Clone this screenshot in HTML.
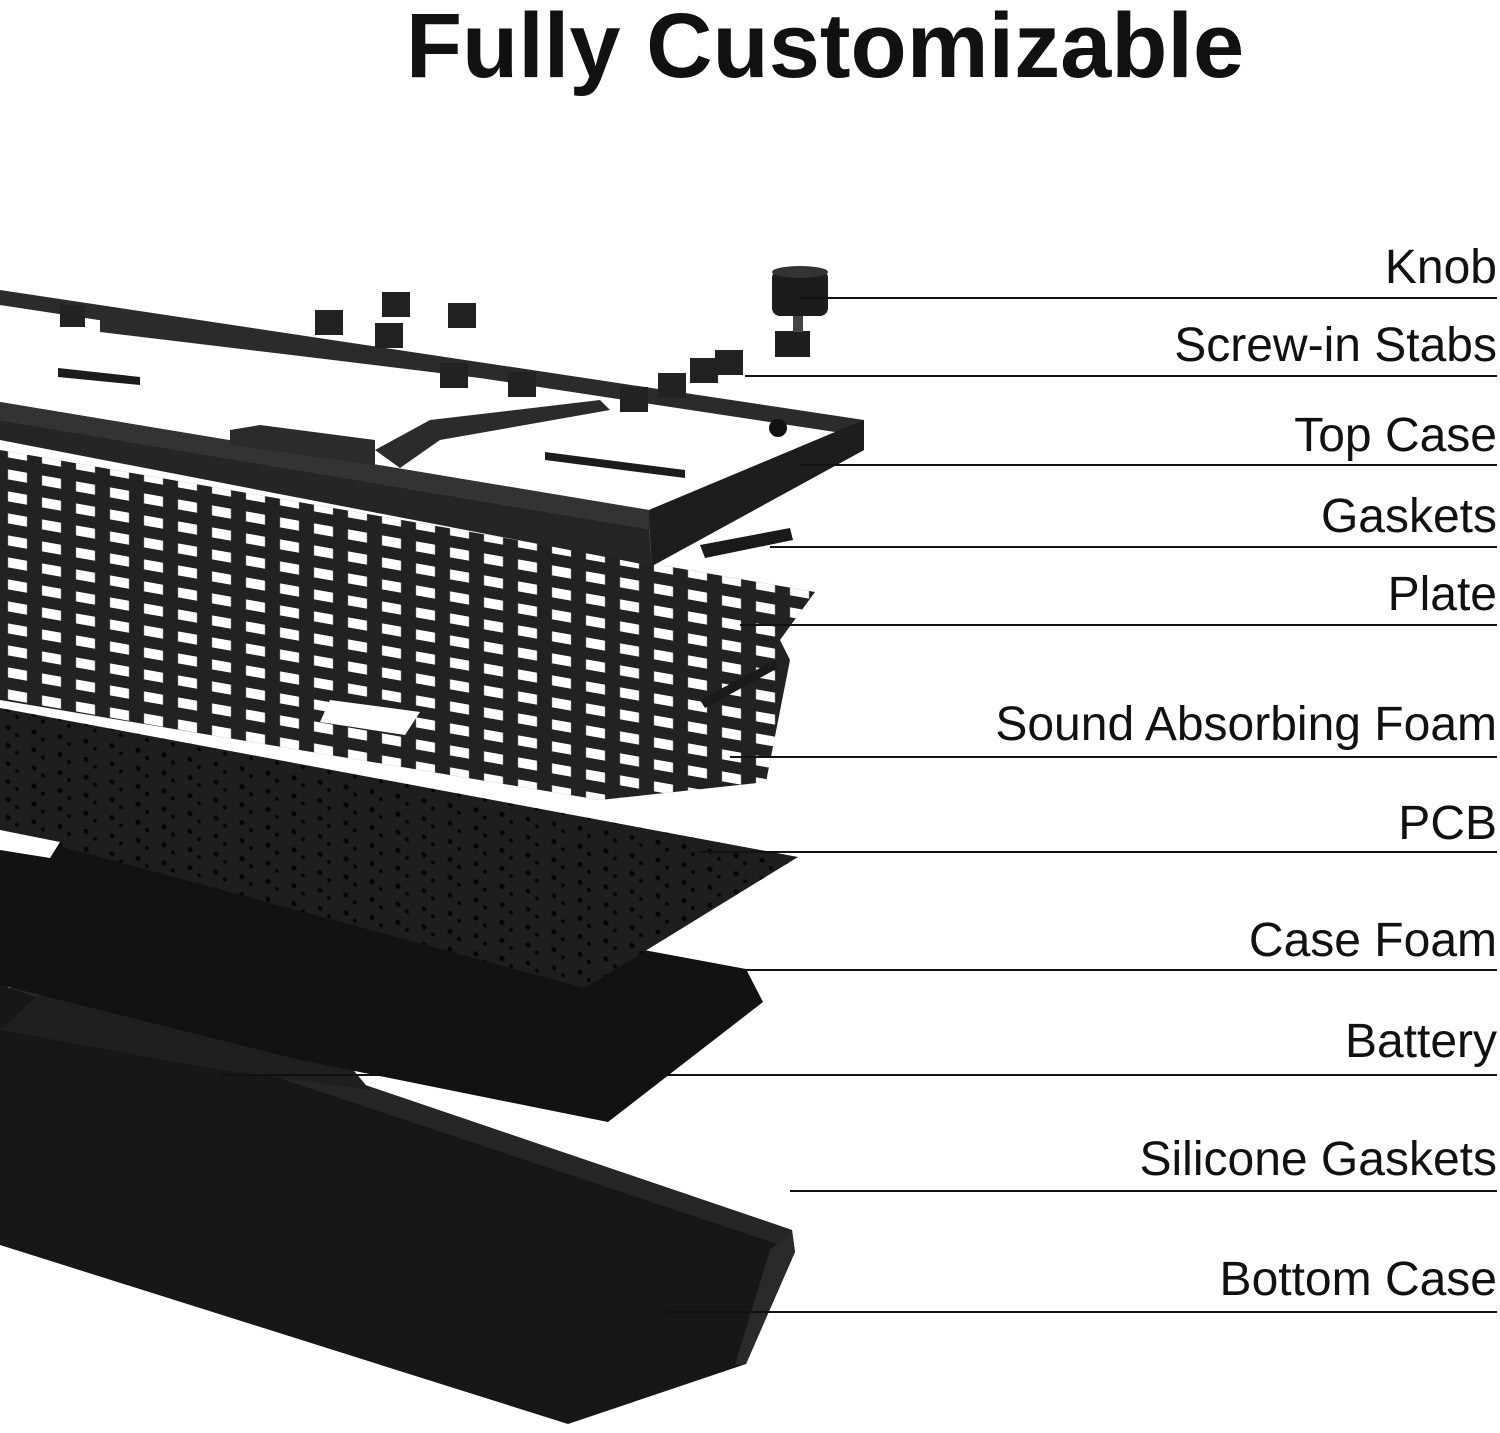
<!DOCTYPE html>
<html><head><meta charset="utf-8"><style>
html,body{margin:0;padding:0;background:#fff}
svg{display:block}
text{font-family:"Liberation Sans",sans-serif}
</style></head><body>
<svg width="1500" height="1433" viewBox="0 0 1500 1433" xmlns="http://www.w3.org/2000/svg">
<defs>
<pattern id="holes" width="34" height="22" patternUnits="userSpaceOnUse" patternTransform="skewY(10)">
<rect x="8" y="6" width="19" height="10" fill="#fff"/>
</pattern>
<pattern id="dots" width="26" height="18" patternUnits="userSpaceOnUse" patternTransform="skewY(10)">
<circle cx="8" cy="6" r="2.6" fill="#050505"/><circle cx="17" cy="12" r="2" fill="#050505"/>
</pattern>
</defs>
<text x="825" y="77" text-anchor="middle" font-size="92" font-weight="bold" fill="#111">Fully Customizable</text>

<!-- bottom case -->
<polygon points="0,961 792,1230 795,1252 746,1364 568,1424 0,1245" fill="#171717"/>
<polygon points="0,961 792,1230 780,1245 0,985" fill="#262626"/>
<polygon points="746,1364 795,1252 792,1230 770,1250 735,1365" fill="#2a2a2a"/>
<polygon points="60,975 300,1040 345,1060 370,1090 220,1070 0,1030" fill="#1f1f1f"/>
<rect x="8" y="968" width="22" height="20" fill="#777"/>
<!-- case foam -->
<polygon points="0,830 746,969 763,1002 608,1122 300,1060 0,985" fill="#121212"/>
<!-- PCB -->
<polygon points="0,708 798,857 585,988 0,830" fill="#1e1e1e"/>
<polygon points="0,708 798,857 585,988 0,830" fill="url(#dots)"/>
<polygon points="0,830 60,842 50,858 0,850" fill="#fff"/>
<!-- plate / foam -->
<polygon points="0,450 815,592 780,640 790,660 766,782 600,800 0,700" fill="#222"/>
<polygon points="0,450 815,592 780,640 790,660 766,782 600,800 0,700" fill="url(#holes)"/>
<polygon points="330,700 420,712 405,735 320,722" fill="#fff"/>
<!-- gaskets -->
<polygon points="700,545 790,528 793,540 705,558" fill="#1a1a1a"/>
<polygon points="700,700 775,660 778,668 705,708" fill="#1a1a1a"/>
<!-- top case frame -->
<polygon points="0,290 864,420 864,450 652,566 649,529 0,420 0,402 649,510 835,432 0,305" fill="#2b2b2b"/>
<polygon points="0,402 649,510 649,529 0,420" fill="#333"/>
<polygon points="0,420 649,529 652,566 0,440" fill="#252525"/>
<polygon points="649,510 864,420 864,450 652,566" fill="#1d1d1d"/>
<polygon points="230,430 260,425 375,440 375,465 230,445" fill="#2b2b2b"/>
<polygon points="375,450 430,420 600,400 610,410 440,440 400,468" fill="#2b2b2b"/>
<polygon points="300,345 480,368 480,378 300,356" fill="#2b2b2b"/>
<polygon points="100,320 300,345 300,356 100,332" fill="#2b2b2b"/>
<polygon points="545,452 685,470 685,478 545,460" fill="#1c1c1c"/>
<polygon points="58,368 140,377 140,385 58,377" fill="#1c1c1c"/>
<circle cx="778" cy="428" r="9" fill="#111"/>
<g fill="#222">
<rect x="60" y="305" width="25" height="22"/><rect x="315" y="310" width="28" height="25"/><rect x="382" y="292" width="28" height="25"/>
<rect x="448" y="303" width="28" height="25"/><rect x="375" y="323" width="28" height="25"/><rect x="440" y="363" width="28" height="25"/>
<rect x="508" y="372" width="28" height="25"/><rect x="620" y="387" width="28" height="25"/><rect x="658" y="373" width="28" height="25"/>
<rect x="690" y="358" width="28" height="25"/><rect x="715" y="350" width="28" height="25"/>
</g>
<rect x="772" y="270" width="56" height="46" rx="8" fill="#1c1c1c"/>
<ellipse cx="800" cy="272" rx="28" ry="6" fill="#333"/>
<rect x="775" y="331" width="35" height="26" fill="#1e1e1e"/>
<rect x="793" y="316" width="10" height="16" fill="#444"/>

<g stroke="#111" stroke-width="2">
<line x1="800" y1="298" x2="1497" y2="298"/>
<line x1="745" y1="376" x2="1497" y2="376"/>
<line x1="800" y1="465" x2="1497" y2="465"/>
<line x1="770" y1="547" x2="1497" y2="547"/>
<line x1="740" y1="625" x2="1497" y2="625"/>
<line x1="730" y1="757" x2="1497" y2="757"/>
<line x1="700" y1="852" x2="1497" y2="852"/>
<line x1="690" y1="970" x2="1497" y2="970"/>
<line x1="220" y1="1075" x2="1497" y2="1075"/>
<line x1="790" y1="1191" x2="1497" y2="1191"/>
<line x1="665" y1="1312" x2="1497" y2="1312"/>
</g>
<g font-size="48" fill="#111" text-anchor="end">
<text x="1497" y="283">Knob</text>
<text x="1497" y="361">Screw-in Stabs</text>
<text x="1497" y="451">Top Case</text>
<text x="1497" y="532">Gaskets</text>
<text x="1497" y="610">Plate</text>
<text x="1497" y="740">Sound Absorbing Foam</text>
<text x="1497" y="839">PCB</text>
<text x="1497" y="956">Case Foam</text>
<text x="1497" y="1057">Battery</text>
<text x="1497" y="1175">Silicone Gaskets</text>
<text x="1497" y="1295">Bottom Case</text>
</g>
</svg>
</body></html>
